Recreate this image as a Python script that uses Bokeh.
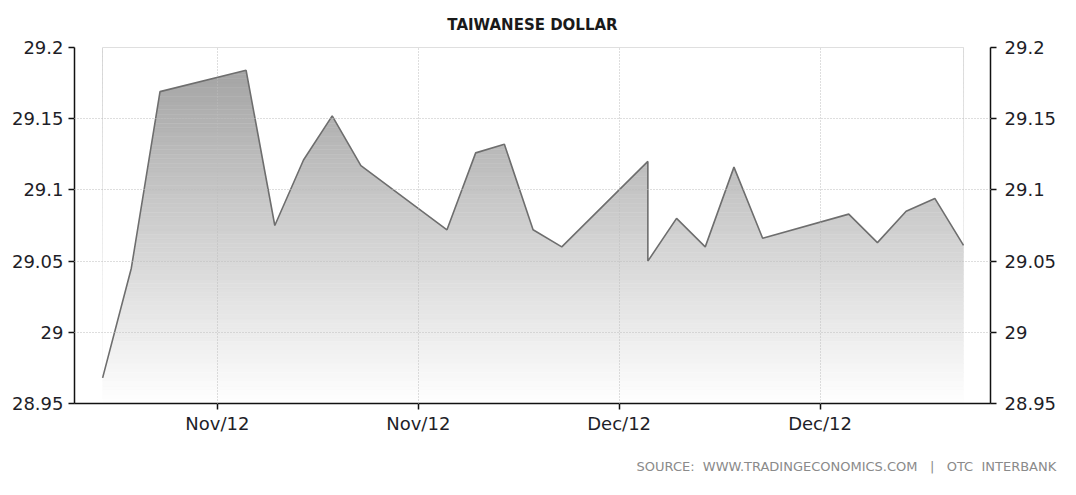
import numpy as np
from bokeh.plotting import figure
from bokeh.models import LinearAxis, FixedTicker, Range1d, Title, NumeralTickFormatter
from bokeh.embed import file_html
from bokeh.resources import INLINE

# ---- data (day offsets of trading days, exchange rate) ----
days = [0, 1, 2, 5, 6, 7, 8, 9, 12, 13, 14, 15, 16, 19, 19, 20, 21, 22, 23, 26, 27, 28, 29, 30]
rates = [28.968, 29.045, 29.169, 29.184, 29.075, 29.121, 29.152, 29.117, 29.072, 29.126,
         29.132, 29.072, 29.060, 29.120, 29.050, 29.080, 29.060, 29.116, 29.066, 29.083,
         29.063, 29.085, 29.094, 29.061]
tick_days = [4, 11, 18, 25]
tick_labels = ["Nov/12", "Nov/12", "Dec/12", "Dec/12"]
y_ticks = [28.95, 29.0, 29.05, 29.1, 29.15, 29.2]
title_text = "TAIWANESE DOLLAR"
source_text = "SOURCE:\u00a0\u00a0WWW.TRADINGECONOMICS.COM\u00a0\u00a0\u00a0|\u00a0\u00a0\u00a0OTC\u00a0\u00a0INTERBANK"

y_lo, y_hi = 28.95, 29.2

p = figure(width=1060, height=479,
           x_range=Range1d(-0.98, 30.94), y_range=Range1d(y_lo, y_hi),
           output_backend="svg", toolbar_location=None,
           min_border_left=74, min_border_right=70, min_border_top=47, min_border_bottom=76)
p.outline_line_color = None
p.background_fill_color = "white"
p.border_fill_color = "white"

# title
p.title.text = title_text
p.title.align = "center"
p.title.text_font = "DejaVu Sans"
p.title.text_font_size = "15px"
p.title.text_font_style = "bold"
p.title.text_color = "#1a1a1a"
p.title.standoff = 27

# gradient fill under the line: stacked horizontal bands, then white cover above line
n = 80
edges = np.linspace(y_lo, y_hi, n + 1)
cols = []
for i in range(n):
    t = (i + 0.5) / n  # 0 bottom -> 1 top
    c = int(round(255 - t * (255 - 158)))
    cols.append("#%02x%02x%02x" % (c, c, c))
p.quad(left=days[0], right=days[-1], bottom=edges[:-1], top=edges[1:],
       fill_color=cols, line_color=cols, line_width=0.5)
p.varea(x=days, y1=rates, y2=y_hi, fill_color="white")
p.line(days, rates, line_color="#6e6e6e", line_width=1.6)

# grid
p.xgrid.ticker = FixedTicker(ticks=tick_days)
p.ygrid.ticker = FixedTicker(ticks=y_ticks)
p.grid.grid_line_color = "#bdbdbd"
p.grid.grid_line_dash = "1 2"
p.grid.grid_line_width = 1
p.grid.level = "overlay"

def style_axis(ax):
    ax.axis_line_color = "#111111"
    ax.axis_line_width = 1.5
    ax.major_tick_line_color = "#111111"
    ax.major_tick_line_width = 1.5
    ax.major_tick_out = 6
    ax.major_tick_in = 0
    ax.minor_tick_line_color = None
    ax.major_label_text_font = "DejaVu Sans"
    ax.major_label_text_font_size = "18px"
    ax.major_label_text_color = "#1e1e28"

# x axis
p.xaxis.ticker = FixedTicker(ticks=tick_days)
p.xaxis.major_label_overrides = dict(zip(tick_days, tick_labels))
style_axis(p.xaxis[0])
p.xaxis.major_label_standoff = 3

# left y axis
p.yaxis.ticker = FixedTicker(ticks=y_ticks)
p.yaxis.formatter = NumeralTickFormatter(format="0.[00]")
style_axis(p.yaxis[0])
p.yaxis.major_label_standoff = 5

# right y axis
ry = LinearAxis(ticker=FixedTicker(ticks=y_ticks), formatter=NumeralTickFormatter(format="0.[00]"))
style_axis(ry)
ry.major_label_standoff = 8
p.add_layout(ry, "right")

# source note (blank first line pushes the note lower in its panel)
src = Title(text="\u00a0\n" + source_text, align="left", offset=562, standoff=10,
            text_font="DejaVu Sans", text_font_size="13px", text_font_style="normal",
            text_color="#8a8a8a")
p.add_layout(src, "below")

open("out.html", "w").write(file_html(p, INLINE))
